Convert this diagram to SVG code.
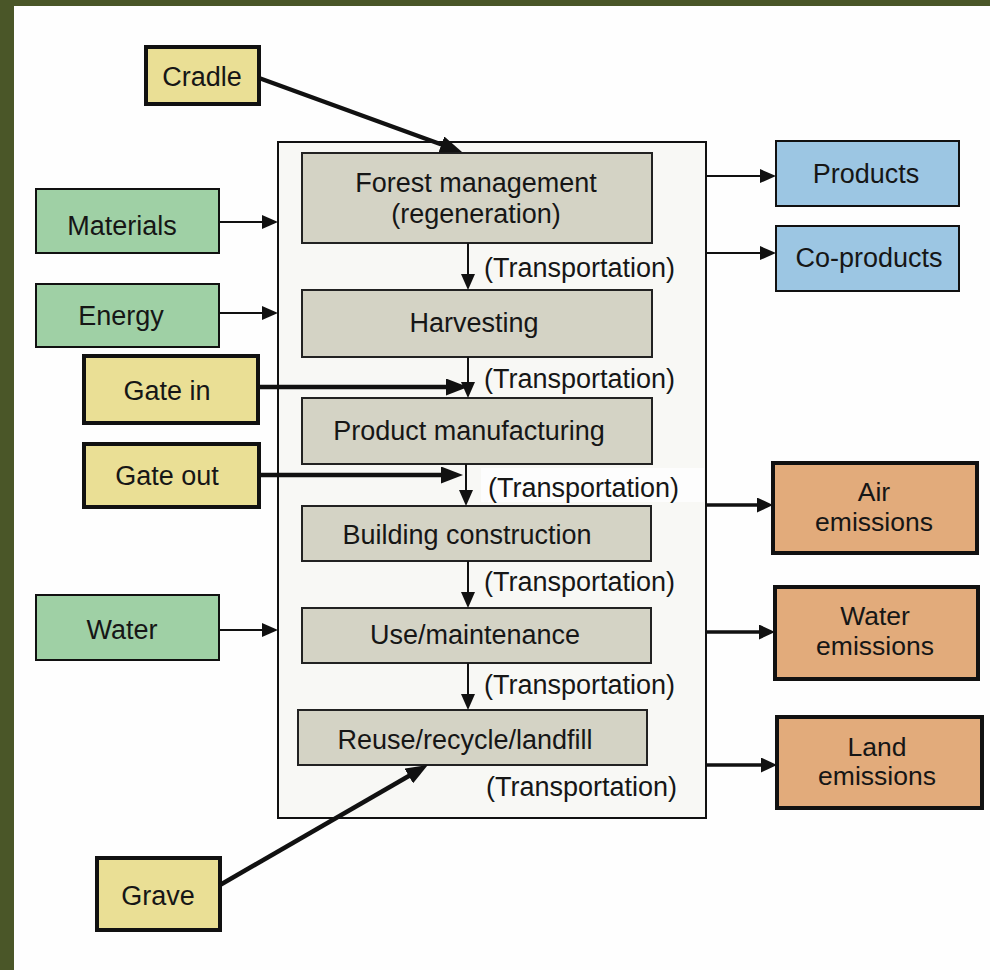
<svg xmlns="http://www.w3.org/2000/svg" width="990" height="970" viewBox="0 0 990 970">
<defs>
<style>
text{font-family:"Liberation Sans",Arial,sans-serif;font-size:27px;fill:#161616;text-anchor:middle}
.tr{text-anchor:start}
.em{font-size:26.5px}
.yel{fill:#eadf95;stroke:#111;stroke-width:4}
.grn{fill:#9fd0a5;stroke:#111;stroke-width:2}
.blu{fill:#9cc6e3;stroke:#111;stroke-width:2}
.org{fill:#e2ab7b;stroke:#111;stroke-width:4}
.proc{fill:#d4d3c5;stroke:#222;stroke-width:2}
.thin{stroke:#111;stroke-width:2;fill:none;marker-end:url(#ah)}
.thick{stroke:#111;stroke-width:4.5;fill:none;marker-end:url(#ahb)}
.mid{stroke:#111;stroke-width:3.5;fill:none;marker-end:url(#ahm)}
</style>
<marker id="ah" markerUnits="userSpaceOnUse" markerWidth="16" markerHeight="14" refX="4" refY="7" orient="auto"><path d="M0,0 L16,7 L0,14 z" fill="#111"/></marker>
<marker id="ahm" markerUnits="userSpaceOnUse" markerWidth="16" markerHeight="15" refX="4" refY="7.5" orient="auto"><path d="M0,0 L16,7.5 L0,15 z" fill="#111"/></marker>
<marker id="ahb" markerUnits="userSpaceOnUse" markerWidth="22" markerHeight="17" refX="6" refY="8.5" orient="auto"><path d="M0,0 L22,8.5 L0,17 z" fill="#111"/></marker>
</defs>
<rect x="0" y="0" width="990" height="970" fill="#fefefe"/>
<rect x="0" y="0" width="990" height="6" fill="#4a5628"/>
<rect x="0" y="0" width="14" height="970" fill="#4a5628"/>

<g id="container">
<rect x="278" y="142" width="428" height="676" fill="#f8f8f5" stroke="#111" stroke-width="2"/>
<rect x="481" y="468" width="223" height="34" fill="#fdfdfd"/>
</g>

<g id="forest"><rect class="proc" x="302" y="153" width="350" height="90"/><text x="476" y="192">Forest management</text><text x="476" y="223">(regeneration)</text></g>
<g id="harvesting"><rect class="proc" x="302" y="290" width="350" height="67"/><text x="474" y="332">Harvesting</text></g>
<g id="manufacturing"><rect class="proc" x="302" y="398" width="350" height="66"/><text x="469" y="440">Product manufacturing</text></g>
<g id="construction"><rect class="proc" x="302" y="506" width="349" height="55"/><text x="467" y="544">Building construction</text></g>
<g id="use"><rect class="proc" x="302" y="608" width="349" height="55"/><text x="475" y="644">Use/maintenance</text></g>
<g id="reuse"><rect class="proc" x="298" y="710" width="349" height="55"/><text x="465" y="749">Reuse/recycle/landfill</text></g>

<g id="labels">
<text class="tr" x="484" y="277">(Transportation)</text>
<text class="tr" x="484" y="388">(Transportation)</text>
<text class="tr" x="488" y="497">(Transportation)</text>
<text class="tr" x="484" y="591">(Transportation)</text>
<text class="tr" x="484" y="694">(Transportation)</text>
<text class="tr" x="486" y="796">(Transportation)</text>
</g>

<g id="cradle"><rect class="yel" x="146" y="47" width="113" height="57"/><text x="202" y="86">Cradle</text></g>
<g id="materials"><rect class="grn" x="36" y="189" width="183" height="64"/><text x="122" y="235">Materials</text></g>
<g id="energy"><rect class="grn" x="36" y="284" width="183" height="63"/><text x="121" y="325">Energy</text></g>
<g id="gatein"><rect class="yel" x="84" y="356" width="174" height="67"/><text x="167" y="400">Gate in</text></g>
<g id="gateout"><rect class="yel" x="84" y="444" width="175" height="63"/><text x="167" y="485">Gate out</text></g>
<g id="water"><rect class="grn" x="36" y="595" width="183" height="65"/><text x="122" y="639">Water</text></g>
<g id="grave"><rect class="yel" x="97" y="858" width="123" height="72"/><text x="158" y="905">Grave</text></g>

<g id="products"><rect class="blu" x="776" y="141" width="183" height="65"/><text x="866" y="183">Products</text></g>
<g id="coproducts"><rect class="blu" x="776" y="226" width="183" height="65"/><text x="869" y="267">Co-products</text></g>
<g id="air"><rect class="org" x="773" y="463" width="204" height="90"/><text class="em" x="874" y="501">Air</text><text class="em" x="874" y="531">emissions</text></g>
<g id="wateremis"><rect class="org" x="775" y="587" width="203" height="92"/><text class="em" x="875" y="625">Water</text><text class="em" x="875" y="655">emissions</text></g>
<g id="land"><rect class="org" x="777" y="717" width="205" height="91"/><text class="em" x="877" y="756">Land</text><text class="em" x="877" y="785">emissions</text></g>

<g id="connectors">
<line class="thin" x1="468" y1="243" x2="468" y2="278"/>
<line class="thin" x1="468" y1="357" x2="468" y2="386"/>
<line class="thin" x1="466" y1="464" x2="466" y2="494"/>
<line class="thin" x1="468" y1="561" x2="468" y2="596"/>
<line class="thin" x1="468" y1="663" x2="468" y2="698"/>
<line class="thin" x1="219" y1="222" x2="266" y2="222"/>
<line class="thin" x1="219" y1="313" x2="266" y2="313"/>
<line class="thin" x1="219" y1="630" x2="266" y2="630"/>
<line class="thin" x1="706" y1="176" x2="764" y2="176"/>
<line class="thin" x1="706" y1="253" x2="764" y2="253"/>
<line class="mid" x1="706" y1="505" x2="761" y2="505"/>
<line class="mid" x1="706" y1="632" x2="763" y2="632"/>
<line class="mid" x1="706" y1="765" x2="765" y2="765"/>
<line class="thick" x1="258" y1="387" x2="452" y2="387"/>
<line class="thick" x1="259" y1="475" x2="447" y2="475"/>
<line class="thick" x1="259" y1="78" x2="447" y2="146.5"/>
<line class="thick" x1="220" y1="885" x2="414" y2="773"/>
</g>
</svg>
